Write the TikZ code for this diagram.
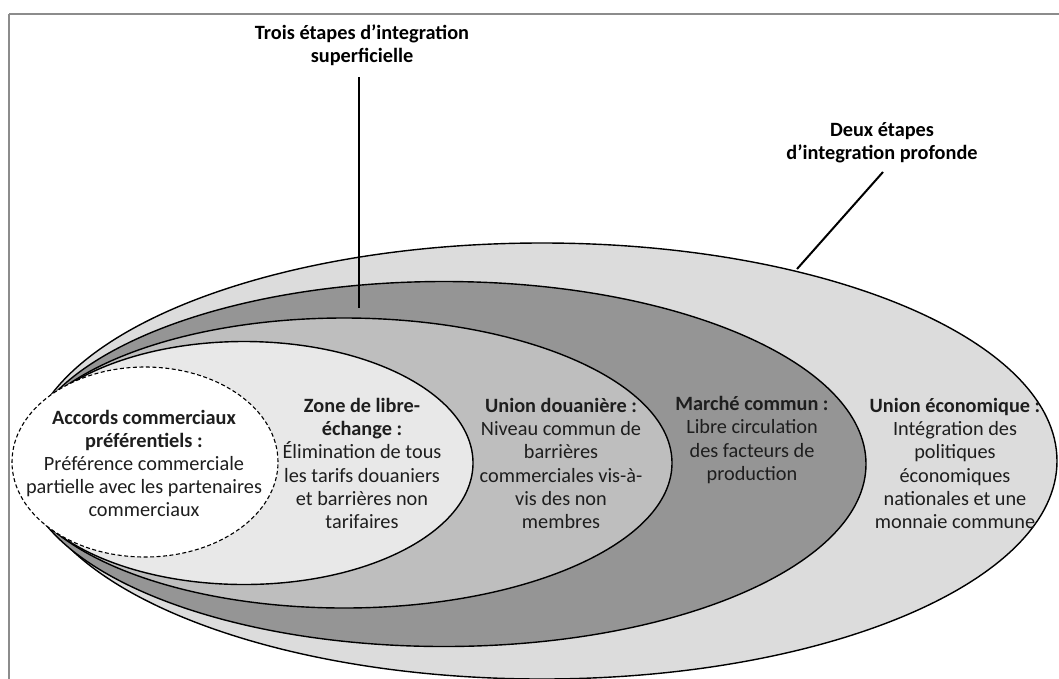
\documentclass[tikz,border=0pt]{standalone}
\usepackage{fontspec}
\setmainfont{Carlito}
\definecolor{cOuter}{HTML}{DCDCDC}
\definecolor{cDark}{HTML}{959595}
\definecolor{cMed}{HTML}{BEBEBE}
\definecolor{cLight}{HTML}{E8E8E8}
\definecolor{cFrame}{HTML}{8C8C8C}
\definecolor{cText}{HTML}{1E1E1E}
\begin{document}
\begin{tikzpicture}[x=1pt,y=-1pt,
  frameline/.style={draw=cFrame,line width=2.4pt},
  ell/.style={draw=black,line width=1.4pt},
  dashell/.style={draw=black,line width=1.1pt,dash pattern=on 4pt off 2.5pt,fill=white},
  lbl/.style={align=center,inner sep=0pt,text=cText,font=\fontsize{20.3}{23.2}\selectfont},
  leader/.style={draw=black,line width=2pt}]
\useasboundingbox (0,0) rectangle (1059,678);
\draw[frameline] (9,14) -- (1075,14);
\draw[frameline] (9,14) -- (9,695);
% nested ellipses
\draw[ell,fill=cOuter] (542,461) ellipse [x radius=515pt, y radius=218pt];
\draw[ell,fill=cDark]  (444,464) ellipse [x radius=422pt, y radius=182.5pt];
\draw[ell,fill=cMed]   (344,463) ellipse [x radius=328pt, y radius=145pt];
\draw[ell,fill=cLight] (244,463) ellipse [x radius=229pt, y radius=121.5pt];
\draw[dashell] (145,462) ellipse [x radius=133pt, y radius=95pt];
% labels
\node[lbl] (acc) at (144,463.5) {\textbf{Accords commerciaux}\\\textbf{préférentiels :}\\Préférence commerciale\\partielle avec les partenaires\\commerciaux};
\node[lbl] (zone) at (362,463.5) {\textbf{Zone de libre-}\\\textbf{échange :}\\Élimination de tous\\les tarifs douaniers\\et barrières non\\tarifaires};
\node[lbl] (ud) at (561,463.5) {\textbf{Union douanière :}\\Niveau commun de\\barrières\\commerciales vis-à-\\vis des non\\membres};
\node[lbl] (mc) at (752,440) {\textbf{Marché commun :}\\Libre circulation\\des facteurs de\\production};
\node[lbl] (ue) at (955,463.5) {\textbf{Union économique :}\\Intégration des\\politiques\\économiques\\nationales et une\\monnaie commune};
\node[lbl,text=black] (trois) at (362,45) {\textbf{Trois étapes d’integration}\\\textbf{superficielle}};
\node[lbl,text=black] (deux) at (882,143) {\textbf{Deux étapes}\\\textbf{d’integration profonde}};
% leaders
\coordinate (troisEnd) at (359,308);
\coordinate (troisStart) at (359,77);
\coordinate (deuxStart) at (883,172);
\coordinate (deuxEnd) at (797,269);
\draw[leader] (troisStart) -- (troisEnd);
\draw[leader] (deuxStart) -- (deuxEnd);
\end{tikzpicture}
\end{document}
